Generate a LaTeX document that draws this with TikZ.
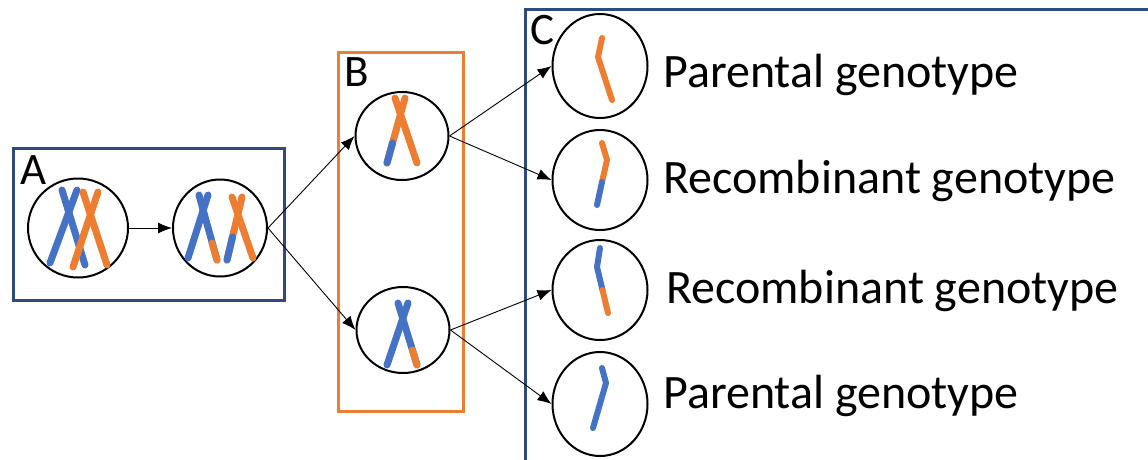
\documentclass[tikz,border=0pt]{standalone}
\usepackage{fontspec}
\setmainfont{Carlito}
\usetikzlibrary{arrows.meta,shapes.geometric}
\definecolor{chromblue}{HTML}{4472C4}
\definecolor{chromorange}{HTML}{ED7D31}
\definecolor{framenavy}{HTML}{2F4A7E}
\begin{document}
\begin{tikzpicture}[x=1pt,y=-1pt,
  cell/.style={ellipse, draw=black, line width=2pt, inner sep=0pt},
  navyframe/.style={draw=framenavy, line width=3pt},
  orangeframe/.style={draw=chromorange, line width=3pt},
  link/.style={draw=black, line width=0.9pt, -{Latex[length=14pt,width=11pt]}},
  bluearm/.style={draw=chromblue, line width=7pt, line cap=round},
  orangearm/.style={draw=chromorange, line width=7pt, line cap=round},
  thinblue/.style={draw=chromblue, line width=6pt, line cap=round, line join=round},
  thinorange/.style={draw=chromorange, line width=6pt, line cap=round, line join=round},
  tag/.style={font=\fontsize{45}{54}\selectfont, anchor=base west, inner sep=0pt},
  geno/.style={font=\fontsize{48}{58}\selectfont, anchor=base west, inner sep=0pt}]
\useasboundingbox (0,0) rectangle (1148,459);

% panel frames
\draw[navyframe] (13,148) rectangle (284,300);
\draw[orangeframe] (338,52) rectangle (463,411);
\draw[navyframe] (1152,9) -- (525,9) -- (525,465);

% panel letters
\node[tag] (labA) at (20,184) {A};
\node[tag] (labB) at (344,86) {B};
\node[tag] (labC) at (530,44) {C};

% cells
\node[cell, minimum width=100pt, minimum height=99pt] (a1) at (78,228) {};
\node[cell, minimum width=94pt, minimum height=97pt] (a2) at (220,228) {};
\node[cell, minimum width=93pt, minimum height=88pt] (b1) at (402,136) {};
\node[cell, minimum width=93pt, minimum height=86pt] (b2) at (403,330) {};
\node[cell, minimum width=95pt, minimum height=104pt] (c1) at (600,66) {};
\node[cell, minimum width=95pt, minimum height=100pt] (c2) at (600,180) {};
\node[cell, minimum width=95pt, minimum height=100pt] (c3) at (600,290) {};
\node[cell, minimum width=95pt, minimum height=104pt] (c4) at (600,404) {};

% genotype captions
\node[geno] (g1) at (663,87) {Parental genotype};
\node[geno] (g2) at (663,193) {Recombinant genotype};
\node[geno] (g3) at (666,303) {Recombinant genotype};
\node[geno] (g4) at (663,408) {Parental genotype};

% connectors
\draw[link] (a1.east) -- (a2.west);
\draw[link] (a2.east) -- (b1.west);
\draw[link] (a2.east) -- (b2.west);
\draw[link] (b1.east) -- (c1.west);
\draw[link] (b1.east) -- (c2.west);
\draw[link] (b2.east) -- (c3.west);
\draw[link] (b2.east) -- (c4.west);

% homologous pair before crossing over
\draw[bluearm] (62,190) -- (85,265);
\draw[bluearm] (77,190) -- (50,263);
\draw[orangearm] (83,192) -- (107,265);
\draw[orangearm] (98,192) -- (73,267);

% pair after crossing over
\draw[bluearm] (199,195) -- (217,260);
\draw[bluearm] (208,195) -- (188,258);
\draw[orangearm] (212,243) -- (217,260);
\draw[orangearm] (232,197) -- (253,258);
\draw[orangearm] (242,197) -- (227,260);
\draw[bluearm] (232.5,237) -- (227,260);

% first meiotic products
\draw[orangearm] (395,98) -- (417,163);
\draw[orangearm] (405,98) -- (387,163);
\draw[bluearm] (392.5,143) -- (387,163);
\draw[bluearm] (398,303) -- (417,365);
\draw[bluearm] (408,303) -- (387,365);
\draw[orangearm] (412.4,350) -- (417,365);

% gametes
\draw[thinorange] (602,38) -- (598,57) -- (612,100);
\draw[thinorange] (602,143) -- (607,160) -- (602,182);
\draw[thinblue] (602,182) -- (597,205);
\draw[thinblue] (600,248) -- (597,267) -- (602.5,290);
\draw[thinorange] (602.5,290) -- (608,313);
\draw[thinblue] (602,368) -- (606,383) -- (593,428);
\end{tikzpicture}
\end{document}
